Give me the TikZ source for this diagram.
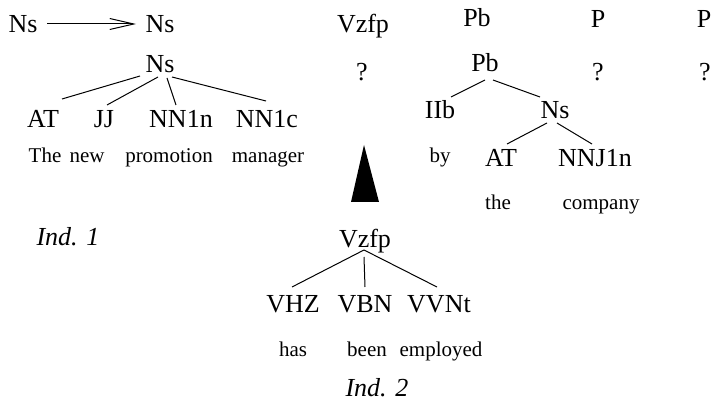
\documentclass[tikz,border=0pt]{standalone}
\usepackage{fontspec}
\setmainfont{Liberation Serif}
\usetikzlibrary{arrows.meta}
\begin{document}
\begin{tikzpicture}[x=1pt,y=-1pt,
 cat/.style={font=\fontsize{26}{30}\selectfont, anchor=base, inner sep=0pt},
 word/.style={font=\fontsize{21}{24}\selectfont, anchor=base, inner sep=0pt},
 ind/.style={font=\fontsize{26}{30}\selectfont\itshape, anchor=base, inner sep=0pt},
 edge/.style={line width=1pt}]
\useasboundingbox (0,0) rectangle (713,403);
% top row
\node[cat] (nsA) at (23,33) {Ns};
\node[cat] (nsB) at (160,33) {Ns};
\node[cat] (vzA) at (363,33) {Vzfp};
\node[cat] (pbA) at (477,27) {Pb};
\node[cat] (pA) at (598,28) {P};
\node[cat] (pB) at (704,28) {P};
\draw[edge,-{Straight Barb[length=24pt,width=11pt,line width=1pt]}]
  ([shift={(24,-9)}]nsA.base) -- ([shift={(-24,-9)}]nsB.base);
% question marks
\node[cat] (qA) at (362,81) {?};
\node[cat] (qB) at (598,81) {?};
\node[cat] (qC) at (705,81) {?};
% left tree
\node[cat] (ns2) at (160,73) {Ns};
\node[cat] (at) at (43,128) {AT};
\node[cat] (jj) at (104,128) {JJ};
\node[cat] (nn1n) at (181,128) {NN1n};
\node[cat] (nn1c) at (267,128) {NN1c};
\draw[edge] ([shift={(-20,3)}]ns2.base) -- ([shift={(19,-29)}]at.base);
\draw[edge] ([shift={(-2,4)}]ns2.base) -- ([shift={(3,-23)}]jj.base);
\draw[edge] ([shift={(7,5)}]ns2.base) -- ([shift={(-5,-23)}]nn1n.base);
\draw[edge] ([shift={(12,4)}]ns2.base) -- ([shift={(-1,-27)}]nn1c.base);
\node[word] (wThe) at (45,163) {The};
\node[word] (wNew) at (87,163) {new};
\node[word] (wProm) at (169,163) {promotion};
\node[word] (wMan) at (268,163) {manager};
% right tree
\node[cat] (pb2) at (485,72) {Pb};
\node[cat] (iib) at (440,119) {IIb};
\node[cat] (ns3) at (555,119) {Ns};
\node[cat] (at2) at (501,167) {AT};
\node[cat] (nnj) at (595,167) {NNJ1n};
\draw[edge] ([shift={(0,8)}]pb2.base) -- ([shift={(11,-22)}]iib.base);
\draw[edge] ([shift={(8,8)}]pb2.base) -- ([shift={(-15,-22)}]ns3.base);
\draw[edge] ([shift={(-8,4)}]ns3.base) -- ([shift={(6,-23)}]at2.base);
\draw[edge] ([shift={(2,4)}]ns3.base) -- ([shift={(-3,-23)}]nnj.base);
\node[word] (wBy) at (440,163) {by};
\node[word] (wTheB) at (498,210) {the};
\node[word] (wComp) at (601,210) {company};
% triangle
\fill (364,145) -- (351,202) -- (379,202) -- cycle;
% bottom tree
\node[ind] (ind1) at (68,246) {Ind. 1};
\node[cat] (vz2) at (365,248) {Vzfp};
\node[cat] (vhz) at (293,313) {VHZ};
\node[cat] (vbn) at (365,313) {VBN};
\node[cat] (vvnt) at (439,313) {VVNt};
\draw[edge] ([shift={(-1,2)}]vz2.base) -- ([shift={(-1,-26)}]vhz.base);
\draw[edge] ([shift={(-1,9)}]vz2.base) -- ([shift={(0,-26)}]vbn.base);
\draw[edge] ([shift={(-1,2)}]vz2.base) -- ([shift={(-2,-26)}]vvnt.base);
\node[word] (wHas) at (293,357) {has};
\node[word] (wBeen) at (367,357) {been};
\node[word] (wEmp) at (441,357) {employed};
\node[ind] (ind2) at (377,397) {Ind. 2};
\end{tikzpicture}
\end{document}
